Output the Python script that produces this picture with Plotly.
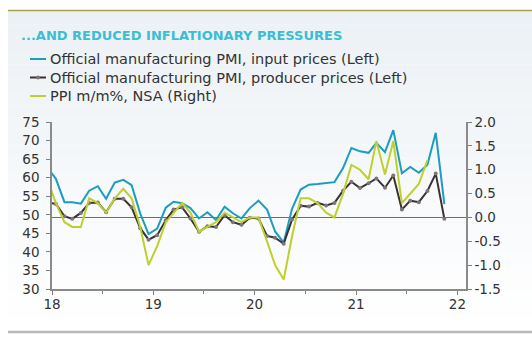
import plotly.graph_objects as go
import pandas as pd

# Monthly observations (plotted mid-month), Dec 2017 .. Nov 2021
months = [d.strftime("%Y-%m-15") for d in pd.date_range("2017-12-01", "2021-11-01", freq="MS")]

input_prices = [62.8,
                59.7, 53.4, 53.4, 53.0, 56.5, 57.7, 54.3, 58.7, 59.4, 58.0, 50.3, 44.8,
                46.3, 51.9, 53.5, 53.1, 51.8, 49.0, 50.7, 48.6, 52.2, 50.4, 49.0, 51.8,
                53.8, 51.4, 45.5, 42.5, 51.6, 56.8, 58.1, 58.3, 58.5, 58.8, 62.6, 68.0,
                67.1, 66.7, 69.4, 66.9, 72.8, 61.2, 62.9, 61.3, 63.5, 72.1, 52.9]

producer_prices = [53.3,
                   52.9, 49.6, 48.9, 50.5, 53.2, 53.3, 50.7, 54.3, 54.3, 52.0, 46.4, 43.3,
                   44.5, 48.5, 51.4, 52.0, 49.0, 45.4, 46.9, 46.7, 49.9, 48.0, 47.3, 49.2,
                   49.0, 44.3, 43.8, 42.2, 48.7, 52.4, 52.2, 53.2, 52.5, 53.2, 56.5, 58.9,
                   57.2, 58.5, 59.8, 57.3, 60.6, 51.4, 53.8, 53.4, 56.4, 61.1, 48.9]

ppi_mm = [0.8,
          0.3, -0.1, -0.2, -0.2, 0.4, 0.3, 0.1, 0.4, 0.6, 0.4, -0.2, -1.0,
          -0.6, -0.1, 0.1, 0.3, 0.1, -0.3, -0.2, -0.1, 0.1, 0.0, -0.1, 0.0,
          0.0, -0.5, -1.0, -1.3, -0.4, 0.4, 0.4, 0.3, 0.1, 0.0, 0.5, 1.1,
          1.0, 0.8, 1.6, 0.9, 1.6, 0.3, 0.5, 0.7, 1.2]

series_names = ["Official manufacturing PMI, input prices (Left)",
                "Official manufacturing PMI, producer prices (Left)",
                "PPI m/m%, NSA (Right)"]
series_colors = ["#1b9cc0", "#3b3034", "#bfd02c"]

x_tickvals = ["2018-01-01", "2019-01-01", "2020-01-01", "2021-01-01", "2022-01-01"]
x_ticktext = ["18", "19", "20", "21", "22"]
x_minor = ["2018-07-01", "2019-07-01", "2020-07-01", "2021-07-01"]
y2_tickvals = [-1.5, -1.0, -0.5, 0.0, 0.5, 1.0, 1.5, 2.0]
y2_ticktext = ["-1.5", "-1.0", "-0.5", "0.0", "0.5", "1.0", "1.5", "2.0"]

W, H = 532, 339
ML, MR, MT, MB = 52, 66, 122, 50
PW, PH = W - ML - MR, H - MT - MB

def px(xpix):
    return (xpix - ML) / PW

def py(ypix):
    return 1 + (MT - ypix) / PH

FONT = "DejaVu Sans"
TXT = "#333333"
MARKER_COLOR = "#7d7578"

fig = go.Figure()
fig.add_trace(go.Scatter(x=months, y=input_prices, mode="lines",
                         name=series_names[0],
                         line=dict(color=series_colors[0], width=2)))
fig.add_trace(go.Scatter(x=months, y=producer_prices, mode="lines+markers",
                         name=series_names[1],
                         line=dict(color=series_colors[1], width=2),
                         marker=dict(symbol="circle", size=4, color=MARKER_COLOR)))
fig.add_trace(go.Scatter(x=months[:len(ppi_mm)], y=ppi_mm, mode="lines",
                         name=series_names[2], yaxis="y2",
                         line=dict(color=series_colors[2], width=2)))

# background gradient panel
shapes = []
top_pix, bot_pix = 11, 331
n = 24
for i in range(n):
    y0p = top_pix + (bot_pix - top_pix) * i / n
    y1p = top_pix + (bot_pix - top_pix) * (i + 1) / n
    t = i / (n - 1)
    r = round(0xec + (0xff - 0xec) * t)
    g = round(0xf1 + (0xff - 0xf1) * t)
    b = round(0xf5 + (0xff - 0xf5) * t)
    shapes.append(dict(type="rect", xref="paper", yref="paper", layer="below",
                       x0=px(8), x1=px(W), y0=py(y1p), y1=py(y0p),
                       fillcolor=f"rgb({r},{g},{b})", line=dict(width=0)))
shapes.append(dict(type="line", xref="paper", yref="paper",
                   x0=px(8), x1=px(W), y0=py(10.5), y1=py(10.5),
                   line=dict(color="#a9a34c", width=1.5)))
shapes.append(dict(type="line", xref="paper", yref="paper",
                   x0=px(8), x1=px(W), y0=py(332), y1=py(332),
                   line=dict(color="#b9b9b9", width=2.5)))

annotations = [dict(text="<b>...AND REDUCED INFLATIONARY PRESSURES</b>",
                    xref="paper", yref="paper", x=px(19), y=py(35),
                    xanchor="left", yanchor="middle", showarrow=False,
                    font=dict(size=13, color="#3bbdd5", family=FONT))]

# custom legend (key lines + labels)
leg_rows = [59, 77.5, 96]
for name, col, yrow in zip(series_names, series_colors, leg_rows):
    shapes.append(dict(type="line", xref="paper", yref="paper",
                       x0=px(30), x1=px(46), y0=py(yrow), y1=py(yrow),
                       line=dict(color=col, width=2)))
    annotations.append(dict(text=name, xref="paper", yref="paper",
                            x=px(48), y=py(yrow), xanchor="left", yanchor="middle",
                            showarrow=False, font=dict(size=14.5, color=TXT, family=FONT)))
shapes.append(dict(type="circle", xref="paper", yref="paper",
                   x0=px(36), x1=px(40), y0=py(leg_rows[1] + 2), y1=py(leg_rows[1] - 2),
                   fillcolor=MARKER_COLOR, line=dict(width=0)))

fig.update_layout(
    width=W, height=H,
    margin=dict(l=ML, r=MR, t=MT, b=MB),
    paper_bgcolor="white", plot_bgcolor="rgba(0,0,0,0)",
    font=dict(family=FONT, size=13, color=TXT),
    shapes=shapes, annotations=annotations,
    showlegend=False,
    xaxis=dict(type="date", range=["2018-01-01", "2022-02-01"],
               tickvals=x_tickvals, ticktext=x_ticktext,
               ticks="outside", ticklen=4, tickcolor="#808080",
               showline=True, linecolor="#8a8a8a", linewidth=1.5,
               showgrid=False, zeroline=False, ticklabelstandoff=-2,
               minor=dict(tickvals=x_minor, ticks="outside", ticklen=3,
                          tickcolor="#808080", tickwidth=1),
               tickfont=dict(size=13.5, color=TXT)),
    yaxis=dict(range=[30, 75], dtick=5, tick0=30, ticks="outside", ticklen=4,
               tickcolor="#808080", showline=True, linecolor="#8a8a8a", linewidth=1.5,
               ticklabelstandoff=4,
               showgrid=False, zeroline=False, tickfont=dict(size=13.5, color=TXT)),
    yaxis2=dict(range=[-1.5, 2.0], overlaying="y", side="right",
                tickvals=y2_tickvals, ticktext=y2_ticktext,
                ticks="outside", ticklen=4, tickcolor="#808080",
                showline=True, linecolor="#8a8a8a", linewidth=1.5,
                showgrid=False, zeroline=True, zerolinecolor="#6e6e6e", zerolinewidth=1,
                tickfont=dict(size=13.5, color=TXT)),
)

fig.write_html("out.html")
